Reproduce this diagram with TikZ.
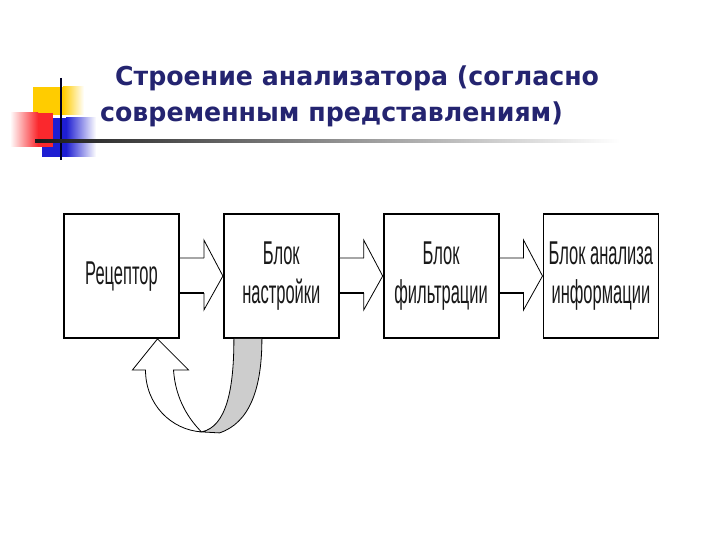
\documentclass[tikz,border=0pt]{standalone}
\usepackage{fontspec}
\newfontfamily\titlefont{DejaVu Sans}
\newfontfamily\boxfont{Liberation Sans}
\usetikzlibrary{calc,positioning}
\definecolor{ttlnavy}{RGB}{36,36,112}
\definecolor{decoyellow}{RGB}{255,204,0}
\definecolor{decored}{RGB}{250,40,45}
\definecolor{decoblue}{RGB}{30,30,210}
\definecolor{bandgray}{RGB}{205,205,205}
\newcommand{\boxtext}[1]{\scalebox{0.5}[1]{\begin{tabular}{@{}c@{}}#1\end{tabular}}}
\newcommand{\ttltext}[1]{\scalebox{0.97}[1]{#1}}

\begin{document}
\begin{tikzpicture}[x=1pt, y=-1pt,
    node distance=43pt,
    block/.style={draw, line width=1.8pt, minimum width=115pt, minimum height=124pt, inner sep=0pt, font=\boxfont\fontsize{33}{40}\selectfont, text=black!90},
    ttl/.style={anchor=base west, inner sep=0pt, font=\titlefont\bfseries\fontsize{26}{30}\selectfont, text=ttlnavy},
    shaftup/.style={draw=black!35, line width=2pt},
    shaftdown/.style={draw=black, line width=1.6pt},
    head/.style={draw=black, line width=0.8pt}
  ]
  \useasboundingbox (0,0) rectangle (720,540);

  % corner decoration
  \fill[decoyellow] (33,87) rectangle (63,115);
  \shade[left color=decoyellow, right color=white] (63,87) rectangle (84,115);
  \fill[decoblue] (42,118) rectangle (66,157);
  \shade[left color=decoblue, right color=white] (66,118) rectangle (96,157);
  \shade[left color=white, right color=decored] (10,113) rectangle (38,147);
  \fill[decored] (38,113) rectangle (53,147);
  \draw[line width=2pt, black!85!blue] (61,78) -- (61,160);
  \shade[left color=black!90, middle color=black!60, right color=white] (35,139.6) rectangle (620,142.4);

  % title
  \node[ttl] (title1) at (115,86) {\ttltext{Строение анализатора (согласно}};
  \node[ttl] (title2) at (100,122) {\ttltext{современным представлениям)}};

  % blocks
  \node[block] (receptor) at (121.5,276) {\boxtext{Рецептор}};
  \node[block, right=of receptor] (tuning) {\boxtext{Блок\\настройки}};
  \node[block, right=of tuning] (filter) {\boxtext{Блок\\фильтрации}};
  \node[block, right=of filter] (analysis) {\boxtext{Блок анализа\\информации}};

  % block arrows
  \foreach \from/\to in {receptor/tuning, tuning/filter, filter/analysis}{
    \draw[shaftup] ($(\from.east)+(0,-18)$) -- ++(24,0);
    \draw[shaftdown] ($(\from.east)+(0,17)$) -- ++(24,0);
    \draw[head] ($(\from.east)+(24,-18)$) -- ++(0,-18) -- (\to.west) -- ($(\from.east)+(24,34)$) -- ++(0,-17);
  }

  % feedback loop
  \coordinate (tip) at ($(receptor.south)+(36,0)$);
  \coordinate (bot) at ($(tip)+(44,93)$);
  \coordinate (gL) at ($(tuning.south west)+(11,0)$);
  \coordinate (gR) at ($(tuning.south west)+(39,0)$);
  \filldraw[fill=white, draw=black, line width=0.8pt] (bot) .. controls +(-30,-2) and +(0,35) .. ($(tip)+(-12,31)$) -- ++(-13,0) -- (tip) -- ($(tip)+(31,31)$) -- ++(-15,0) .. controls +(2,30) and +(-12,-12) .. (bot);
  \filldraw[fill=bandgray, draw=black, line width=0.8pt] (gL) .. controls +(0,50) and +(25,-5) .. (bot) -- ++(18,1) .. controls +(30,-10) and +(0,50) .. (gR);
\end{tikzpicture}
\end{document}
